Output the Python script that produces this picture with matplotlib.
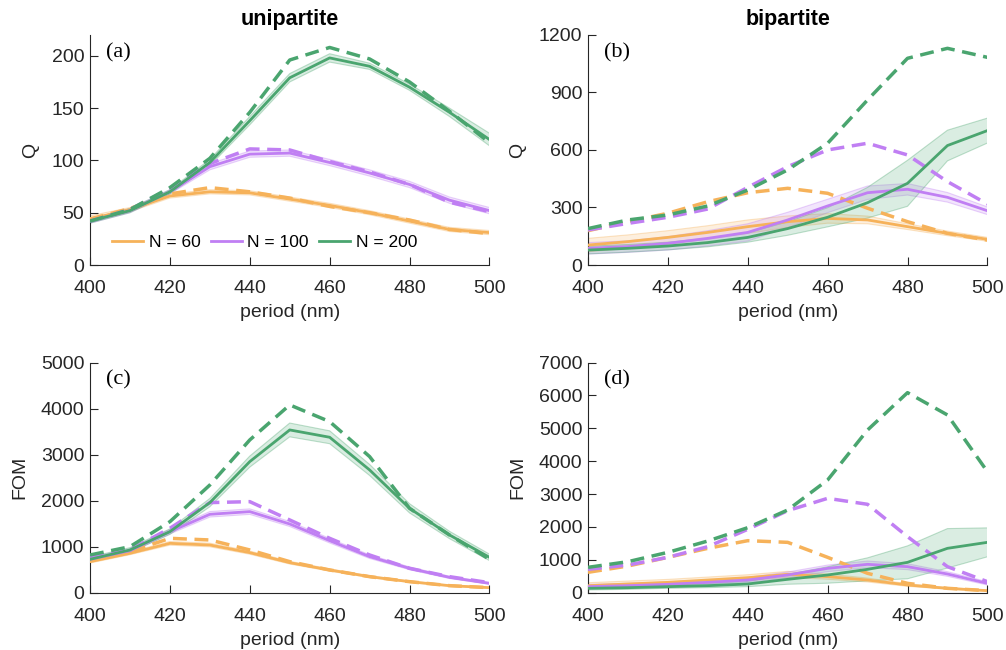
import numpy as np
import matplotlib.pyplot as plt

period = np.arange(400, 501, 10)

# unipartite Q
q_uni_60 = [44, 53, 66, 70, 69, 63, 57, 50, 42, 34, 31]
q_uni_60_max = [44, 54, 68, 74, 70, 64, 56, 50, 43, 34, 30]
q_uni_100 = [42, 52, 70, 94, 106, 107, 98, 88, 77, 62, 52]
q_uni_100_max = [42, 53, 73, 97, 111, 110, 99, 89, 77, 60, 51]
q_uni_200 = [42, 52, 70, 98, 138, 179, 198, 190, 170, 146, 120]
q_uni_200_max = [42, 53, 74, 102, 146, 196, 208, 197, 175, 147, 117]
q_uni_60_sd = [3, 2, 2, 2, 2, 2, 2, 2, 2, 2, 2]
q_uni_100_sd = [2, 2, 2, 3, 3, 3, 3, 3, 3, 3, 3]
q_uni_200_sd = [2, 2, 2, 3, 4, 4, 4, 3, 3, 4, 6]

# bipartite Q
q_bi_60 = [104, 122, 144, 170, 200, 226, 243, 235, 200, 165, 134]
q_bi_60_max = [179, 226, 270, 330, 377, 400, 374, 296, 226, 165, 130]
q_bi_100 = [87, 96, 113, 139, 170, 235, 308, 377, 395, 353, 283]
q_bi_100_max = [183, 217, 249, 292, 405, 513, 600, 635, 574, 435, 318]
q_bi_200 = [78, 87, 99, 117, 144, 190, 249, 325, 426, 623, 701]
q_bi_200_max = [190, 235, 261, 308, 391, 496, 635, 861, 1078, 1130, 1083]
q_bi_60_sd = [35, 35, 35, 35, 35, 30, 25, 20, 15, 12, 10]
q_bi_100_sd = [30, 30, 35, 40, 45, 40, 35, 35, 30, 25, 20]
q_bi_200_sd = [20, 20, 20, 22, 25, 35, 50, 80, 120, 80, 65]

# unipartite FOM
fom_uni_60 = [674, 855, 1072, 1036, 870, 652, 493, 348, 239, 152, 109]
fom_uni_60_max = [696, 891, 1181, 1145, 928, 674, 493, 348, 239, 152, 109]
fom_uni_100 = [725, 913, 1326, 1703, 1761, 1493, 1130, 783, 529, 333, 203]
fom_uni_100_max = [768, 928, 1400, 1957, 1978, 1580, 1181, 819, 529, 348, 217]
fom_uni_200 = [725, 928, 1326, 1957, 2848, 3536, 3377, 2667, 1833, 1254, 768]
fom_uni_200_max = [819, 1000, 1543, 2340, 3319, 4080, 3717, 2957, 1833, 1254, 725]
fom_uni_60_sd = [30, 30, 40, 40, 35, 30, 25, 20, 15, 12, 10]
fom_uni_100_sd = [40, 40, 50, 60, 60, 55, 50, 40, 30, 25, 20]
fom_uni_200_sd = [50, 50, 60, 90, 120, 150, 140, 120, 100, 80, 70]

# bipartite FOM
fom_bi_60 = [213, 264, 314, 385, 456, 558, 487, 385, 233, 132, 61]
fom_bi_60_max = [619, 811, 1075, 1349, 1582, 1531, 1075, 588, 284, 132, 61]
fom_bi_100 = [183, 213, 254, 314, 385, 538, 740, 862, 791, 568, 284]
fom_bi_100_max = [710, 842, 1075, 1400, 1927, 2495, 2870, 2688, 1704, 791, 335]
fom_bi_200 = [132, 152, 183, 213, 264, 406, 538, 710, 923, 1349, 1531]
fom_bi_200_max = [771, 943, 1227, 1572, 1978, 2515, 3428, 4949, 6085, 5406, 3682]
fom_bi_60_sd = [90, 90, 90, 90, 90, 90, 80, 60, 40, 25, 15]
fom_bi_100_sd = [70, 70, 70, 70, 80, 90, 100, 100, 90, 70, 50]
fom_bi_200_sd = [50, 50, 50, 60, 80, 150, 250, 350, 500, 600, 440]

labels = ['N = 60', 'N = 100', 'N = 200']
colors = ['#F6B25A', '#C07FF3', '#4AA56F']

panels = [
    ([q_uni_60, q_uni_100, q_uni_200], [q_uni_60_max, q_uni_100_max, q_uni_200_max],
     [q_uni_60_sd, q_uni_100_sd, q_uni_200_sd], 'Q', (0, 220), [0, 50, 100, 150, 200], '(a)'),
    ([q_bi_60, q_bi_100, q_bi_200], [q_bi_60_max, q_bi_100_max, q_bi_200_max],
     [q_bi_60_sd, q_bi_100_sd, q_bi_200_sd], 'Q', (0, 1200), [0, 300, 600, 900, 1200], '(b)'),
    ([fom_uni_60, fom_uni_100, fom_uni_200], [fom_uni_60_max, fom_uni_100_max, fom_uni_200_max],
     [fom_uni_60_sd, fom_uni_100_sd, fom_uni_200_sd], 'FOM', (0, 5000), range(0, 5001, 1000), '(c)'),
    ([fom_bi_60, fom_bi_100, fom_bi_200], [fom_bi_60_max, fom_bi_100_max, fom_bi_200_max],
     [fom_bi_60_sd, fom_bi_100_sd, fom_bi_200_sd], 'FOM', (0, 7000), range(0, 7001, 1000), '(d)'),
]

plt.rcParams['font.family'] = ['Liberation Sans', 'DejaVu Sans']

fig = plt.figure(figsize=(10.06, 6.5), dpi=100)
rects = [
    [0.0895, 0.5923, 0.397, 0.354],
    [0.5845, 0.5923, 0.397, 0.354],
    [0.0895, 0.0882, 0.397, 0.354],
    [0.5845, 0.0882, 0.397, 0.354],
]

for rect, (means, maxes, sds, ylab, ylim, yticks, tag) in zip(rects, panels):
    ax = fig.add_axes(rect)
    for mean, mx, sd, col, lab in zip(means, maxes, sds, colors, labels):
        mean = np.array(mean, dtype=float)
        sd = np.array(sd, dtype=float)
        # shaded spread around the mean, with faint edges
        ax.fill_between(period, mean - sd, mean + sd, facecolor=col, alpha=0.2,
                        edgecolor='none', zorder=1)
        ax.plot(period, mean - sd, color=col, lw=0.8, alpha=0.35, zorder=1)
        ax.plot(period, mean + sd, color=col, lw=0.8, alpha=0.35, zorder=1)
        ax.plot(period, mean, color=col, lw=2, label=lab, zorder=3)
        ax.plot(period, mx, color=col, lw=2.5, ls=(0, (4, 2.2)), zorder=3)
    ax.set_xlim(400, 500)
    ax.set_ylim(*ylim)
    ax.set_xticks(range(400, 501, 20))
    ax.set_yticks(list(yticks))
    ax.tick_params(direction='in', length=6, width=0.8, labelsize=14, colors='#262626', pad=4)
    ax.tick_params(axis='x', pad=11)
    for side in ['top', 'right']:
        ax.spines[side].set_visible(False)
    for side in ['left', 'bottom']:
        ax.spines[side].set_color('#262626')
        ax.spines[side].set_linewidth(0.8)
    ax.set_xlabel('period (nm)', fontsize=14, color='#262626', labelpad=5)
    ax.set_ylabel(ylab, fontsize=14, color='#262626', labelpad=9)
    ax.text(0.04, 0.965, tag, transform=ax.transAxes, fontsize=16, va='top', ha='left',
            family=['Liberation Serif', 'DejaVu Serif'])
    if tag == '(a)':
        ax.set_title('unipartite', fontsize=15.5, fontweight='bold', pad=7)
        ax.legend(loc='lower left', bbox_to_anchor=(0.038, 0.035), ncol=3, frameon=False,
                  fontsize=12.5, handlelength=1.8, columnspacing=0.6, handletextpad=0.3,
                  borderaxespad=0)
    if tag == '(b)':
        ax.set_title('bipartite', fontsize=15.5, fontweight='bold', pad=7)

fig.savefig('out.png', dpi=100)
